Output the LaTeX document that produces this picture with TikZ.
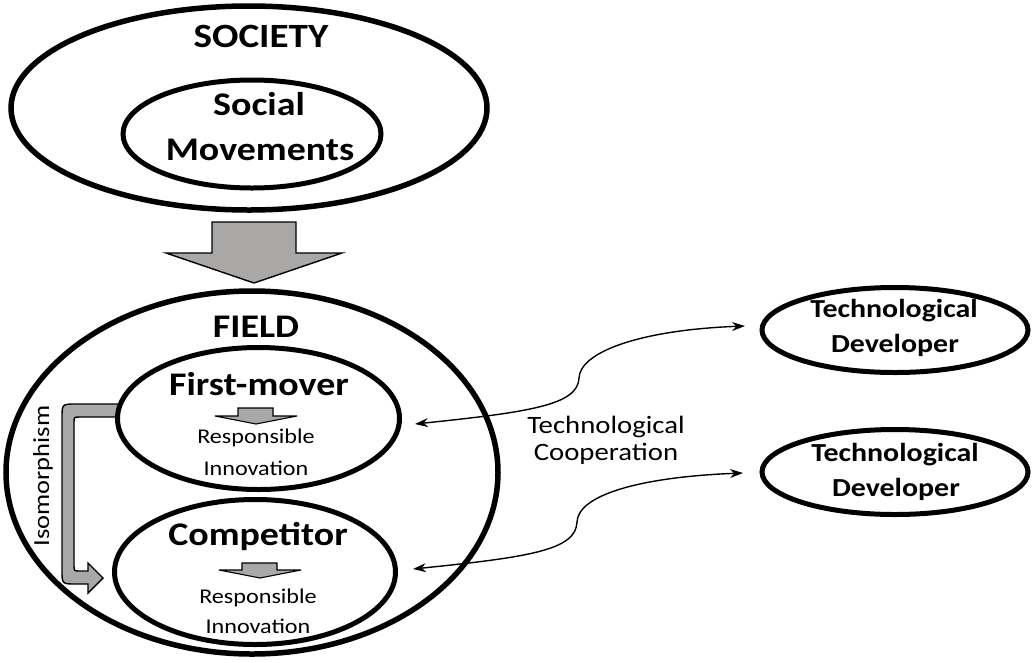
\documentclass[tikz,border=0pt]{standalone}
\usepackage{fontspec}
\setmainfont{Carlito}[FakeStretch=1.15]
\usetikzlibrary{shapes.geometric,arrows.meta}
\definecolor{arrowgray}{RGB}{170,167,167}
\begin{document}
\begin{tikzpicture}[x=1pt,y=-1pt,
  oval/.style={draw, ellipse, line width=5pt, fill=white, inner sep=0pt},
  bigtext/.style={font=\bfseries\fontsize{33}{40}\selectfont, anchor=base, inner sep=0pt},
  devtext/.style={font=\bfseries\fontsize{26}{30}\selectfont, anchor=base, inner sep=0pt},
  smalltext/.style={font=\fontsize{21}{25}\selectfont, anchor=base, inner sep=0pt},
  coopt/.style={font=\fontsize{25}{28}\selectfont, anchor=base, inner sep=0pt},
  blockarrow/.style={draw, fill=arrowgray, line width=1.4pt, line join=miter},
  conn/.style={line width=1.4pt, {Stealth[length=13pt,width=9pt]}-{Stealth[length=13pt,width=9pt]}}
]
\fill[white] (0,0) rectangle (1033,662);
\useasboundingbox (0,0) rectangle (1033,662);

% society and its movements
\node[oval, line width=5.5pt, minimum width=476pt, minimum height=204pt] (society) at (249,108) {};
\node[oval, minimum width=258pt, minimum height=108pt] (movements) at (252,134) {};
\node[bigtext, font=\bfseries\fontsize{34}{40}\selectfont] (societyT) at (261,47) {SOCIETY};
\node[bigtext] (socialT) at (259,115) {Social};
\node[bigtext] (movementsT) at (260,160) {Movements};

% pressure from society onto the field
\draw[blockarrow] (212,222) -- (296,222) -- (296,253) -- (342,253) -- (254,283)
  -- (166,253) -- (212,253) -- cycle;

% the field
\node[oval, line width=5.5pt, minimum width=492pt, minimum height=363pt] (field) at (252,472.5) {};
\node[bigtext] (fieldT) at (256,337) {FIELD};

% isomorphism bent arrow
\draw[blockarrow] (125,404) -- (76,404) .. controls (62,404) .. (62,418)
  -- (62,570) .. controls (62,584) .. (76,584) -- (88,584) -- (88,593)
  -- (103,578) -- (88,563) -- (88,571) -- (80,571) .. controls (74,571) .. (74,565)
  -- (74,423) .. controls (74,417) .. (80,417) -- (125,417) -- cycle;
\node[font=\fontsize{23}{26}\selectfont, anchor=base, inner sep=0pt, rotate=90] (isoT) at (49,476) {Isomorphism};

% first-mover
\node[oval, minimum width=282pt, minimum height=142pt] (first) at (258.5,418.5) {};
\node[bigtext] (firstT) at (259,395) {First-mover};
\draw[blockarrow, line width=1.1pt] (238,408) -- (273,408) -- (273,416) -- (297,416) -- (256,424)
  -- (215,416) -- (238,416) -- cycle;
\node[smalltext] (resp1) at (256,443) {Responsible};
\node[smalltext] (inno1) at (256,475) {Innovation};

% competitor
\node[oval, minimum width=281pt, minimum height=145pt] (comp) at (255,572) {};
\node[bigtext] (compT) at (258,545) {Competitor};
\draw[blockarrow, line width=1.1pt] (242,563) -- (277,563) -- (277,570) -- (301,570) -- (260,578)
  -- (219,570) -- (242,570) -- cycle;
\node[smalltext] (resp2) at (258,603) {Responsible};
\node[smalltext] (inno2) at (258,633) {Innovation};

% technological developers
\node[oval, minimum width=266pt, minimum height=85pt] (dev1) at (895,330) {};
\node[devtext] (dev1a) at (894,317) {Technological};
\node[devtext] (dev1b) at (895,352) {Developer};
\node[oval, minimum width=266pt, minimum height=85pt] (dev2) at (895,472) {};
\node[devtext] (dev2a) at (895,461) {Technological};
\node[devtext] (dev2b) at (896,496) {Developer};

% cooperation links
\coordinate (firstR) at (415,424);
\coordinate (dev1L) at (745,326);
\coordinate (compR) at (413,569);
\coordinate (dev2L) at (743,473);
\draw[conn] (firstR) .. controls (530,412) and (578,405) .. (579,378)
  .. controls (580,352) and (640,330) .. (dev1L);
\draw[conn] (compR) .. controls (530,557) and (576,550) .. (577,522)
  .. controls (578,495) and (640,477) .. (dev2L);
\node[coopt] (coop1) at (606,433) {Technological};
\node[coopt] (coop2) at (606,460) {Cooperation};
\end{tikzpicture}
\end{document}
